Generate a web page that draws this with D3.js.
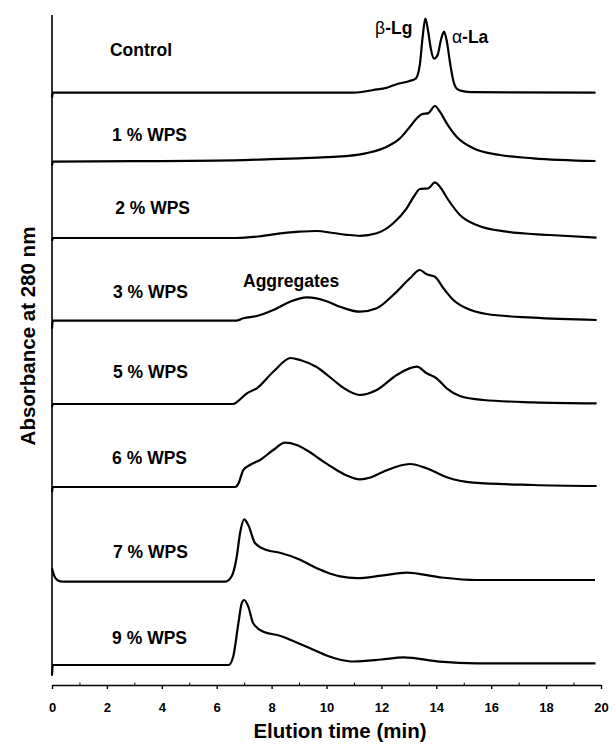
<!DOCTYPE html>
<html>
<head>
<meta charset="utf-8">
<script src="https://cdn.jsdelivr.net/npm/d3@7"></script>
<style>
  body { margin: 0; background: #fff; }
  svg { display: block; }
  text { font-family: "Liberation Sans", Arial, Helvetica, sans-serif; font-weight: bold; fill: #000; }
</style>
</head>
<body>
<svg id="chart" width="616" height="745"></svg>
<script>
// Size-exclusion chromatograms of whey protein samples, stacked by sample.
const sampleNames = ["Control", "1 % WPS", "2 % WPS", "3 % WPS", "5 % WPS", "6 % WPS", "7 % WPS", "9 % WPS"];

// Vertical stacking offset of each chromatogram (absorbance units x1000)
const stackOffsets = [592.3, 523.3, 447, 364.3, 281, 198, 103.3, 20];

// [elution time (min), absorbance above the trace baseline]
const controlTrace = [[0,-5],[0.03,0],[11.0,0],[11.7,2.7],[12.2,5],[12.55,8.5],[13.0,11.5],[13.25,14],[13.4,28],[13.5,55],[13.6,74],[13.7,62],[13.8,44],[13.92,34],[14.05,38],[14.18,54],[14.28,61],[14.38,52],[14.5,30],[14.62,12],[14.75,4],[14.95,1.5],[15.3,0.5],[19.8,0]];
const wps1Trace = [[0,-4],[0.03,0],[3,0.5],[6,1],[8,2.5],[9,3.4],[10,4.5],[10.8,5.8],[11.46,8.6],[12.2,15],[12.68,23.4],[13.04,35],[13.29,43.4],[13.47,47.4],[13.71,48.6],[13.95,55.7],[14.13,50],[14.38,38.4],[14.74,25],[15.35,13.4],[16.32,6.7],[17.53,3.4],[19.8,0.7]];
const wps2Trace = [[0,-3],[0.03,0],[6.7,0],[7.5,1.5],[8.06,3.7],[9.0,6.3],[9.64,7],[10.25,5],[10.75,3.2],[11.22,2.2],[11.83,4.7],[12.43,14.7],[12.92,29.7],[13.22,43],[13.4,49],[13.71,49.7],[13.95,55.7],[14.13,51.3],[14.44,38],[14.86,23],[15.47,13],[16.56,6.3],[18.14,3],[19.84,0.3]];
const wps3Trace = [[0,-8],[0.03,0],[6.7,0],[6.97,2.4],[7.46,4.7],[8.06,10.7],[8.67,19],[9.28,23.4],[9.64,22.4],[10.0,19.5],[10.49,14],[11.22,9],[11.83,12.4],[12.43,25.7],[13.04,42.4],[13.4,50.7],[13.65,46.4],[13.95,44],[14.26,32.4],[14.62,20.7],[15.1,12.4],[15.83,6.7],[17.53,3],[19.84,0.7]];
const wps5Trace = [[0,-3],[0.03,0],[6.6,0],[6.85,4.7],[7.1,10.7],[7.46,15.7],[8.06,32.3],[8.7,46],[9.04,44],[9.64,37],[10.25,24],[10.6,16.5],[11.22,9],[11.83,14],[12.56,29],[13.29,37.3],[13.65,30.7],[14.01,25.7],[14.38,15.7],[14.86,8],[15.71,4],[17.53,1.7],[19.84,0.7]];
const wps6Trace = [[0,-5],[0.03,0],[6.67,0],[6.8,4],[6.9,12],[6.97,17],[7.21,22],[7.58,27],[8.06,37],[8.49,44.3],[8.91,42],[9.3,36.5],[9.75,28],[10.25,19],[10.7,12],[11.22,7.7],[11.6,9.5],[12.07,15.3],[13.04,23],[13.65,18.7],[14.38,9.7],[15.35,4.3],[17.53,2],[19.84,1]];
const wps7Trace = [[0,13.4],[0.08,6],[0.2,1.5],[0.4,0],[6.31,0],[6.55,5.7],[6.73,25],[6.85,48.4],[7.0,62.4],[7.15,56.7],[7.4,38.4],[7.82,31.7],[8.3,29],[9.04,22],[9.5,15.5],[10.0,9.5],[10.5,5.3],[11.1,3.6],[12.0,6],[12.92,9],[14.13,4.4],[15.47,1.7],[19.78,1.7]];
const wps9Trace = [[0,-10],[0.03,0],[6.43,0],[6.6,8.3],[6.79,41.7],[6.91,61.7],[7.0,65],[7.15,58.3],[7.33,41.7],[7.7,33.3],[8.3,29.3],[9.04,21],[9.5,15.5],[10.0,9.5],[10.5,5.3],[10.98,3.5],[12.0,5.5],[12.8,7.7],[14.13,3.3],[15.47,1.7],[19.8,1.7]];

const traces = [controlTrace, wps1Trace, wps2Trace, wps3Trace, wps5Trace, wps6Trace, wps7Trace, wps9Trace];

const xTickValues = [0, 2, 4, 6, 8, 10, 12, 14, 16, 18, 20];
const xMinorTicks = [1, 3, 5, 7, 9, 11, 13, 15, 17, 19];

const svg = d3.select("#chart");

const x = d3.scaleLinear().domain([0, 20]).range([52, 601]);
const y = d3.scaleLinear().domain([0, 670]).range([685, 15]);

// Sample label placement: [time (min), height above the trace baseline]
const labelPlacement = [[2.11, 36.7], [2.19, 20.7], [2.3, 24], [2.22, 22.7], [2.22, 26], [2.19, 23], [2.22, 23.7], [2.19, 21]];

// Left axis line (no ticks)
svg.append("line")
  .attr("x1", x(0)).attr("x2", x(0))
  .attr("y1", y(670)).attr("y2", y(9))
  .attr("stroke", "#000").attr("stroke-width", 1.6);

// Bottom axis
const xAxis = d3.axisBottom(x)
  .tickValues(xTickValues)
  .tickSize(4)
  .tickSizeOuter(0)
  .tickPadding(14)
  .tickFormat(d3.format("d"));

const gx = svg.append("g")
  .attr("transform", `translate(0,${y(0)})`)
  .call(xAxis);
gx.select(".domain").attr("stroke", "#000").attr("stroke-width", 1.4);
gx.selectAll(".tick line").attr("stroke", "#000").attr("stroke-width", 1.4);
gx.selectAll(".tick text")
  .attr("font-family", "'Liberation Sans', Arial, sans-serif")
  .attr("font-weight", "bold")
  .attr("font-size", 13)
  .attr("fill", "#000");

svg.append("g")
  .attr("transform", `translate(0,${y(0)})`)
  .call(d3.axisBottom(x).tickValues(xMinorTicks).tickSize(-2.5).tickFormat(""))
  .call(g => g.select(".domain").remove())
  .selectAll(".tick line").attr("stroke", "#000").attr("stroke-width", 1);

// Chromatogram traces
const line = d3.line()
  .x(d => x(d[0]))
  .y(d => d[1])
  .curve(d3.curveMonotoneX);

traces.forEach((trace, i) => {
  const off = stackOffsets[i];
  svg.append("path")
    .datum(trace.map(p => [p[0], y(off + p[1])]))
    .attr("fill", "none")
    .attr("stroke", "#000")
    .attr("stroke-width", 2.2)
    .attr("stroke-linejoin", "round")
    .attr("d", line);

  svg.append("text")
    .attr("x", x(labelPlacement[i][0]))
    .attr("y", y(off + labelPlacement[i][1]))
    .attr("font-size", 17.5)
    .text(sampleNames[i]);
});

// Peak annotations
svg.append("text")
  .attr("x", x(6.96)).attr("y", y(stackOffsets[3] + 33.7))
  .attr("font-size", 17.5)
  .text("Aggregates");

const blg = svg.append("text")
  .attr("x", x(11.77)).attr("y", y(stackOffsets[0] + 58.7))
  .attr("font-size", 17.5);
blg.append("tspan").attr("font-weight", "normal").text("β");
blg.append("tspan").text("-Lg");

const ala = svg.append("text")
  .attr("x", x(14.57)).attr("y", y(stackOffsets[0] + 49.7))
  .attr("font-size", 17.5);
ala.append("tspan").attr("font-weight", "normal").text("α");
ala.append("tspan").text("-La");

// Axis titles
svg.append("text")
  .attr("x", 340).attr("y", 738)
  .attr("text-anchor", "middle")
  .attr("font-size", 20.5)
  .text("Elution time (min)");

svg.append("text")
  .attr("transform", "translate(35,336) rotate(-90)")
  .attr("text-anchor", "middle")
  .attr("font-size", 20.5)
  .text("Absorbance at 280 nm");
</script>
</body>
</html>
